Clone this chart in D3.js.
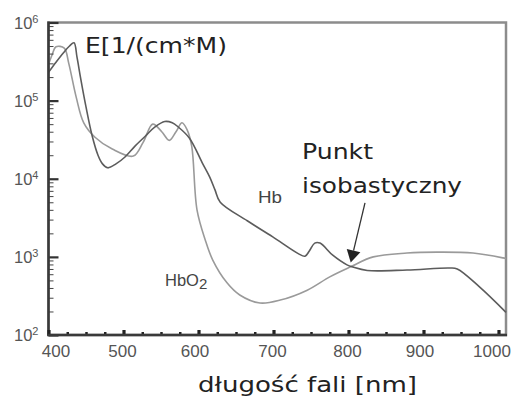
<!DOCTYPE html>
<html>
<head>
<meta charset="utf-8">
<script src="https://cdn.jsdelivr.net/npm/d3@7"></script>
<style>
  body { margin: 0; background: #fff; }
  svg { display: block; }
</style>
</head>
<body>
<svg width="511" height="398"></svg>
<script>
// wavelength [nm] and molar extinction E [1/(cm*M)]
const hbNm  = [400, 410, 420, 428, 434, 438, 443, 450, 458, 466, 472, 479, 490, 502, 515, 529, 542, 555, 565, 573, 588, 605, 615, 622, 629, 665, 699, 733, 742, 748, 755, 762, 779, 798, 806, 825, 878, 935, 945, 975, 1010];
const hbVal = [2.3e5, 3.1e5, 4.1e5, 5.0e5, 5.5e5, 3.6e5, 1.9e5, 8.3e4, 3.6e4, 2.0e4, 1.55e4, 1.38e4, 1.55e4, 1.9e4, 2.6e4, 3.5e4, 4.6e4, 5.4e4, 5.2e4, 4.6e4, 3.3e4, 1.6e4, 1.05e4, 7.2e3, 5.0e3, 2.9e3, 1.8e3, 1.1e3, 1.02e3, 1.2e3, 1.5e3, 1.5e3, 1.05e3, 790, 740, 670, 680, 720, 700, 410, 195];

const hbo2Nm  = [400, 405, 410, 421, 427, 437, 447, 462, 485, 513, 526, 539, 551, 561, 570, 578, 585, 591, 598, 609, 619, 638, 655, 682, 709, 745, 775, 802, 833, 878, 918, 966, 1006, 1010];
const hbo2Val = [2.9e5, 3.9e5, 4.9e5, 4.7e5, 3.0e5, 1.1e5, 5.2e4, 3.4e4, 2.4e4, 1.95e4, 2.9e4, 5.0e4, 4.0e4, 3.1e4, 4.0e4, 5.2e4, 4.2e4, 2.6e4, 4.0e3, 1.65e3, 910, 465, 325, 257, 280, 375, 555, 740, 1.0e3, 1.12e3, 1.15e3, 1.12e3, 970, 950];

const xMajor = [400, 500, 600, 700, 800, 900, 1000];
const xMinor = [425, 450, 475, 525, 550, 575, 625, 650, 675, 725, 750, 775, 825, 850, 875, 925, 950, 975];
const yMajor = [1e2, 1e3, 1e4, 1e5, 1e6];
const yExp   = ['2', '3', '4', '5', '6'];

const svg = d3.select('svg');
const x = d3.scaleLinear().domain([400, 1010]).range([48.5, 506]);
const y = d3.scaleLog().domain([100, 1e6]).range([335, 22.5]);

const sans = '"Liberation Sans", Arial, sans-serif';
const verd = '"DejaVu Sans", Verdana, sans-serif';

// frame (top + right grey)
svg.append('rect')
  .attr('x', x.range()[0]).attr('y', y.range()[1])
  .attr('width', x.range()[1] - x.range()[0])
  .attr('height', y.range()[0] - y.range()[1])
  .attr('fill', 'none').attr('stroke', '#8c8c8c').attr('stroke-width', 2.5);

// curves
const line = d3.line()
  .x(d => x(d[0]))
  .y(d => y(d[1]))
  .curve(d3.curveCatmullRom.alpha(0.5));

svg.append('path')
  .datum(d3.zip(hbo2Nm, hbo2Val))
  .attr('d', line)
  .attr('fill', 'none').attr('stroke', '#9a9a9a').attr('stroke-width', 1.6);

svg.append('path')
  .datum(d3.zip(hbNm, hbVal))
  .attr('d', line)
  .attr('fill', 'none').attr('stroke', '#5c5c5c').attr('stroke-width', 1.6);

// y axis
const yMinor = y.ticks().filter(v => !yMajor.includes(v));
svg.append('g')
  .attr('transform', `translate(${x.range()[0]},0)`)
  .call(d3.axisLeft(y).tickValues(yMinor).tickSize(-5).tickFormat(''))
  .call(g => g.select('.domain').remove())
  .call(g => g.selectAll('line').attr('stroke', '#444').attr('stroke-width', 1));
svg.append('g')
  .attr('transform', `translate(${x.range()[0]},0)`)
  .call(d3.axisLeft(y).tickValues(yMajor).tickSize(-10).tickFormat(''))
  .call(g => g.select('.domain').remove())
  .call(g => g.selectAll('line').attr('stroke', '#333').attr('stroke-width', 2.2));

svg.append('line')
  .attr('x1', x.range()[0]).attr('x2', x.range()[0])
  .attr('y1', y.range()[1] - 1).attr('y2', y.range()[0] + 1)
  .attr('stroke', '#3a3a3a').attr('stroke-width', 2.5);

const yl = svg.append('g').selectAll('text')
  .data(yMajor)
  .join('text')
  .attr('x', 14)
  .attr('y', d => y(d) + 6)
  .attr('font-family', sans).attr('font-size', 16.5)
  .attr('fill', '#555');
yl.append('tspan').text('10');
yl.append('tspan').attr('dy', -6).attr('font-size', 11).text((d, i) => yExp[i]);

// x axis
svg.append('g')
  .attr('transform', `translate(0,${y.range()[0]})`)
  .call(d3.axisBottom(x).tickValues(xMinor).tickSize(-3).tickFormat(''))
  .call(g => g.select('.domain').remove())
  .call(g => g.selectAll('line').attr('stroke', '#222').attr('stroke-width', 2.5));

const xa = svg.append('g')
  .attr('transform', `translate(0,${y.range()[0]})`)
  .call(d3.axisBottom(x).tickValues(xMajor).tickSize(-5).tickPadding(10).tickFormat(d3.format('d')))
  .call(g => g.select('.domain').remove())
  .call(g => g.selectAll('line').attr('stroke', '#222').attr('stroke-width', 3.2));
xa.selectAll('text')
  .attr('font-family', sans).attr('font-size', 17).attr('fill', '#555')
  .attr('dx', (d, i) => i === 0 ? 7 : (i === xMajor.length - 1 ? -7 : (d === 900 || d === 600 ? -4 : -1.5)));

svg.append('line')
  .attr('x1', x.range()[0] - 1).attr('x2', x.range()[1] + 1)
  .attr('y1', y.range()[0]).attr('y2', y.range()[0])
  .attr('stroke', '#3a3a3a').attr('stroke-width', 2.5);

// texts
svg.append('text')
  .attr('x', 85).attr('y', 53)
  .attr('font-family', verd).attr('font-size', 21).attr('fill', '#222')
  .attr('textLength', 142).attr('lengthAdjust', 'spacingAndGlyphs')
  .text('E[1/(cm*M)');

svg.append('text')
  .attr('x', 302).attr('y', 159)
  .attr('font-family', verd).attr('font-size', 22).attr('fill', '#222')
  .attr('textLength', 71).attr('lengthAdjust', 'spacingAndGlyphs')
  .text('Punkt');
svg.append('text')
  .attr('x', 302).attr('y', 193)
  .attr('font-family', verd).attr('font-size', 22).attr('fill', '#222')
  .attr('textLength', 160).attr('lengthAdjust', 'spacingAndGlyphs')
  .text('isobastyczny');

svg.append('text')
  .attr('x', 198).attr('y', 392)
  .attr('font-family', verd).attr('font-size', 21).attr('fill', '#222')
  .attr('textLength', 219).attr('lengthAdjust', 'spacingAndGlyphs')
  .text('długość fali [nm]');

svg.append('text')
  .attr('x', 258).attr('y', 203)
  .attr('font-family', sans).attr('font-size', 16.5).attr('fill', '#444')
  .attr('textLength', 24).attr('lengthAdjust', 'spacingAndGlyphs')
  .text('Hb');

const hbo = svg.append('text')
  .attr('x', 165).attr('y', 286)
  .attr('font-family', sans).attr('font-size', 16.5).attr('fill', '#444');
hbo.append('tspan').text('HbO');
hbo.append('tspan').attr('dy', 3).attr('font-size', 15).text('2');

// arrow to the isosbestic point
const tip = [x(803), y(850)];
const tail = [x(822), y(4900)];
const ang = Math.atan2(tip[1] - tail[1], tip[0] - tail[0]);
const hl = 12, hw = 7;
const base = [tip[0] - hl * Math.cos(ang), tip[1] - hl * Math.sin(ang)];
svg.append('line')
  .attr('x1', tail[0]).attr('y1', tail[1])
  .attr('x2', base[0]).attr('y2', base[1])
  .attr('stroke', '#333').attr('stroke-width', 1.3);
svg.append('path')
  .attr('d', d3.line()([
    tip,
    [base[0] + hw * Math.sin(ang), base[1] - hw * Math.cos(ang)],
    [base[0] - hw * Math.sin(ang), base[1] + hw * Math.cos(ang)]
  ]) + 'Z')
  .attr('fill', '#222');
</script>
</body>
</html>
